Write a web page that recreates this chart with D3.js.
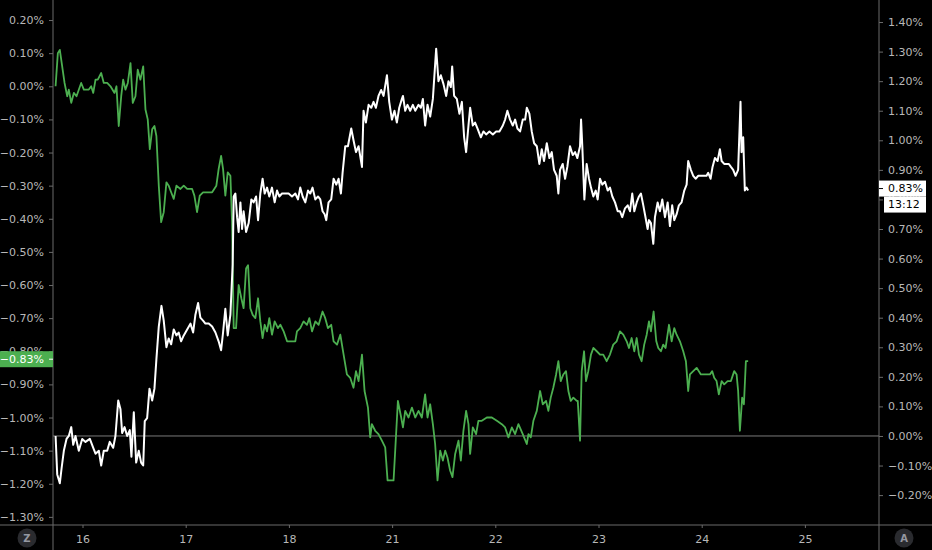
<!DOCTYPE html>
<html><head><meta charset="utf-8">
<script src="https://cdn.jsdelivr.net/npm/d3@7"></script>
<style>html,body{margin:0;padding:0;background:#000;}svg{display:block;}</style>
</head><body>
<svg id="chart" width="932" height="550"></svg>
<script>
// ---- data ----
// x positions in trading days (0 = "16"), values in percent
const dayLabels = ["16","17","18","21","22","23","24","25"];
const leftTicks = [0.2,0.1,0,-0.1,-0.2,-0.3,-0.4,-0.5,-0.6,-0.7,-0.8,-0.9,-1.0,-1.1,-1.2,-1.3];
const rightTicks = [1.4,1.3,1.2,1.1,1.0,0.9,0.8,0.7,0.6,0.5,0.4,0.3,0.2,0.1,0,-0.1,-0.2];
const greenSeries = [[-0.261,0.00],[-0.239,0.10],[-0.220,0.11],[-0.197,0.06],[-0.174,0.01],[-0.148,-0.03],[-0.133,-0.01],[-0.109,-0.05],[-0.084,-0.02],[-0.058,-0.03],[-0.013,0.01],[0.013,-0.01],[0.061,-0.01],[0.084,0.00],[0.104,-0.02],[0.126,0.02],[0.148,0.02],[0.181,0.04],[0.206,0.01],[0.239,0.01],[0.271,0.00],[0.310,-0.02],[0.329,0.00],[0.351,-0.12],[0.375,-0.03],[0.394,0.02],[0.416,-0.01],[0.439,0.01],[0.465,0.07],[0.487,-0.05],[0.513,-0.03],[0.535,0.05],[0.561,0.02],[0.588,0.06],[0.610,-0.07],[0.632,-0.10],[0.652,-0.19],[0.675,-0.13],[0.697,-0.12],[0.716,-0.15],[0.739,-0.30],[0.762,-0.41],[0.787,-0.38],[0.813,-0.29],[0.835,-0.30],[0.859,-0.32],[0.884,-0.34],[0.910,-0.30],[0.949,-0.31],[0.981,-0.30],[1.014,-0.31],[1.062,-0.31],[1.084,-0.33],[1.110,-0.38],[1.136,-0.33],[1.168,-0.32],[1.207,-0.32],[1.256,-0.32],[1.297,-0.30],[1.319,-0.25],[1.343,-0.21],[1.362,-0.25],[1.384,-0.33],[1.407,-0.26],[1.433,-0.27],[1.449,-0.41],[1.465,-0.73],[1.488,-0.73],[1.513,-0.60],[1.539,-0.64],[1.561,-0.67],[1.585,-0.55],[1.604,-0.54],[1.626,-0.67],[1.649,-0.69],[1.675,-0.70],[1.701,-0.64],[1.723,-0.71],[1.745,-0.76],[1.765,-0.72],[1.788,-0.74],[1.810,-0.70],[1.836,-0.75],[1.862,-0.71],[1.894,-0.73],[1.917,-0.72],[1.949,-0.74],[1.982,-0.77],[2.030,-0.77],[2.062,-0.77],[2.078,-0.74],[2.110,-0.73],[2.142,-0.71],[2.175,-0.72],[2.198,-0.70],[2.224,-0.74],[2.256,-0.71],[2.288,-0.72],[2.326,-0.68],[2.352,-0.70],[2.378,-0.73],[2.410,-0.72],[2.433,-0.77],[2.466,-0.78],[2.498,-0.75],[2.530,-0.81],[2.562,-0.87],[2.594,-0.88],[2.626,-0.91],[2.650,-0.86],[2.675,-0.89],[2.708,-0.81],[2.733,-0.92],[2.766,-0.97],[2.788,-1.06],[2.804,-1.02],[2.836,-1.04],[2.868,-1.05],[2.901,-1.07],[2.933,-1.09],[2.956,-1.19],[3.014,-1.19],[3.030,-1.10],[3.056,-0.95],[3.088,-1.00],[3.105,-1.03],[3.127,-0.98],[3.159,-1.00],[3.192,-0.97],[3.224,-1.00],[3.256,-0.98],[3.288,-1.00],[3.320,-0.93],[3.343,-1.00],[3.369,-0.96],[3.395,-1.02],[3.417,-1.08],[3.440,-1.19],[3.466,-1.10],[3.492,-1.13],[3.514,-1.10],[3.536,-1.12],[3.562,-1.16],[3.585,-1.18],[3.611,-1.11],[3.643,-1.07],[3.666,-1.13],[3.691,-1.04],[3.717,-0.98],[3.740,-1.02],[3.756,-1.11],[3.782,-1.03],[3.814,-1.05],[3.836,-1.01],[3.869,-1.01],[3.918,-1.00],[3.966,-1.00],[4.015,-1.01],[4.063,-1.02],[4.095,-1.03],[4.127,-1.06],[4.160,-1.03],[4.192,-1.05],[4.224,-1.02],[4.266,-1.05],[4.305,-1.08],[4.321,-1.05],[4.344,-1.06],[4.369,-1.01],[4.402,-0.98],[4.434,-0.92],[4.460,-0.96],[4.492,-0.95],[4.514,-0.98],[4.537,-0.94],[4.562,-0.91],[4.589,-0.87],[4.611,-0.83],[4.634,-0.89],[4.659,-0.87],[4.685,-0.86],[4.708,-0.92],[4.731,-0.95],[4.756,-0.94],[4.789,-0.95],[4.799,-0.95],[4.821,-1.07],[4.837,-0.86],[4.860,-0.80],[4.879,-0.89],[4.901,-0.86],[4.927,-0.81],[4.950,-0.79],[4.983,-0.80],[5.015,-0.81],[5.046,-0.81],[5.079,-0.83],[5.111,-0.81],[5.143,-0.78],[5.176,-0.77],[5.208,-0.74],[5.240,-0.75],[5.273,-0.77],[5.295,-0.79],[5.321,-0.76],[5.347,-0.80],[5.370,-0.76],[5.392,-0.81],[5.418,-0.83],[5.443,-0.78],[5.467,-0.75],[5.489,-0.71],[5.508,-0.74],[5.534,-0.68],[5.560,-0.77],[5.579,-0.79],[5.605,-0.80],[5.627,-0.78],[5.650,-0.79],[5.683,-0.72],[5.709,-0.77],[5.734,-0.73],[5.757,-0.75],[5.789,-0.77],[5.821,-0.80],[5.847,-0.83],[5.869,-0.92],[5.886,-0.87],[5.918,-0.86],[5.951,-0.85],[5.992,-0.87],[6.038,-0.87],[6.079,-0.87],[6.102,-0.86],[6.121,-0.88],[6.144,-0.89],[6.166,-0.93],[6.193,-0.89],[6.218,-0.90],[6.251,-0.89],[6.283,-0.89],[6.315,-0.86],[6.338,-0.87],[6.353,-0.92],[6.370,-1.04],[6.392,-0.94],[6.409,-0.96],[6.428,-0.83],[6.450,-0.83]];
const whiteSeries = [[-0.261,0.00],[-0.245,-0.13],[-0.220,-0.16],[-0.203,-0.11],[-0.181,-0.05],[-0.155,-0.01],[-0.133,0.00],[-0.109,0.03],[-0.090,-0.03],[-0.068,0.00],[-0.036,-0.05],[-0.003,-0.01],[0.029,-0.02],[0.071,-0.01],[0.104,-0.04],[0.126,-0.06],[0.158,-0.05],[0.181,-0.10],[0.206,-0.05],[0.239,-0.05],[0.264,-0.02],[0.297,-0.04],[0.319,0.00],[0.346,0.12],[0.368,0.09],[0.384,0.01],[0.407,0.03],[0.433,0.00],[0.458,0.02],[0.474,-0.07],[0.497,0.08],[0.520,-0.09],[0.545,-0.05],[0.568,-0.09],[0.588,-0.10],[0.603,0.05],[0.626,0.06],[0.649,0.16],[0.675,0.12],[0.697,0.16],[0.716,0.26],[0.739,0.37],[0.765,0.44],[0.787,0.39],[0.813,0.30],[0.835,0.33],[0.859,0.31],[0.884,0.36],[0.910,0.34],[0.932,0.35],[0.955,0.32],[0.981,0.34],[1.014,0.36],[1.046,0.38],[1.072,0.35],[1.094,0.41],[1.120,0.45],[1.142,0.40],[1.168,0.39],[1.191,0.38],[1.223,0.38],[1.256,0.37],[1.288,0.35],[1.319,0.32],[1.343,0.29],[1.362,0.35],[1.384,0.43],[1.407,0.34],[1.433,0.41],[1.455,0.58],[1.465,0.81],[1.481,0.82],[1.498,0.74],[1.513,0.69],[1.530,0.79],[1.546,0.70],[1.561,0.76],[1.585,0.69],[1.610,0.72],[1.636,0.80],[1.658,0.79],[1.682,0.81],[1.701,0.73],[1.723,0.82],[1.745,0.87],[1.765,0.82],[1.788,0.84],[1.810,0.81],[1.836,0.84],[1.862,0.79],[1.885,0.83],[1.907,0.81],[1.933,0.82],[1.965,0.82],[1.997,0.82],[2.030,0.81],[2.062,0.82],[2.088,0.80],[2.110,0.84],[2.133,0.81],[2.159,0.79],[2.185,0.83],[2.207,0.82],[2.229,0.84],[2.256,0.80],[2.282,0.81],[2.304,0.80],[2.326,0.76],[2.346,0.75],[2.362,0.73],[2.384,0.79],[2.410,0.80],[2.433,0.87],[2.459,0.85],[2.481,0.87],[2.504,0.82],[2.520,0.89],[2.546,0.98],[2.572,0.98],[2.604,1.04],[2.626,1.00],[2.650,0.96],[2.675,0.98],[2.708,0.91],[2.723,1.10],[2.746,1.06],[2.772,1.12],[2.798,1.11],[2.820,1.13],[2.843,1.11],[2.868,1.15],[2.894,1.17],[2.917,1.15],[2.950,1.22],[2.972,1.13],[2.998,1.07],[3.023,1.10],[3.046,1.06],[3.069,1.11],[3.095,1.14],[3.105,1.15],[3.127,1.10],[3.149,1.12],[3.175,1.10],[3.201,1.12],[3.224,1.10],[3.256,1.12],[3.279,1.11],[3.298,1.14],[3.320,1.05],[3.343,1.12],[3.369,1.08],[3.395,1.14],[3.427,1.31],[3.449,1.20],[3.472,1.22],[3.498,1.19],[3.524,1.15],[3.546,1.20],[3.569,1.18],[3.582,1.25],[3.601,1.15],[3.627,1.14],[3.652,1.09],[3.676,1.13],[3.698,1.01],[3.717,0.96],[3.740,1.05],[3.756,1.11],[3.782,1.05],[3.804,1.06],[3.827,1.04],[3.860,1.01],[3.885,1.03],[3.911,1.02],[3.943,1.03],[3.976,1.02],[4.008,1.03],[4.040,1.03],[4.073,1.05],[4.095,1.07],[4.117,1.10],[4.143,1.07],[4.169,1.05],[4.192,1.07],[4.214,1.04],[4.240,1.03],[4.266,1.07],[4.289,1.07],[4.305,1.11],[4.330,1.09],[4.353,1.03],[4.376,0.99],[4.402,0.98],[4.427,0.92],[4.450,0.97],[4.472,0.93],[4.499,0.99],[4.524,0.94],[4.547,0.96],[4.569,0.90],[4.595,0.88],[4.611,0.82],[4.627,0.90],[4.653,0.92],[4.676,0.87],[4.698,0.91],[4.724,0.98],[4.750,0.95],[4.773,0.96],[4.795,0.94],[4.821,0.98],[4.831,1.07],[4.843,0.98],[4.863,0.80],[4.885,0.92],[4.908,0.87],[4.927,0.84],[4.950,0.81],[4.973,0.83],[4.992,0.80],[5.015,0.87],[5.037,0.85],[5.063,0.86],[5.089,0.83],[5.111,0.84],[5.134,0.81],[5.160,0.79],[5.186,0.76],[5.208,0.76],[5.230,0.74],[5.257,0.77],[5.283,0.78],[5.305,0.76],[5.327,0.82],[5.347,0.76],[5.370,0.79],[5.392,0.81],[5.411,0.82],[5.434,0.78],[5.450,0.75],[5.476,0.70],[5.489,0.73],[5.508,0.72],[5.531,0.65],[5.547,0.74],[5.573,0.79],[5.595,0.76],[5.618,0.80],[5.644,0.74],[5.670,0.79],[5.692,0.71],[5.714,0.78],[5.734,0.73],[5.757,0.75],[5.779,0.78],[5.805,0.79],[5.831,0.83],[5.854,0.85],[5.869,0.93],[5.895,0.90],[5.918,0.88],[5.941,0.87],[5.967,0.88],[5.992,0.88],[6.024,0.88],[6.047,0.88],[6.063,0.89],[6.086,0.87],[6.105,0.91],[6.128,0.94],[6.154,0.93],[6.176,0.97],[6.193,0.93],[6.218,0.92],[6.241,0.92],[6.263,0.92],[6.283,0.91],[6.305,0.90],[6.328,0.88],[6.353,0.90],[6.376,1.13],[6.386,0.96],[6.402,1.01],[6.418,0.83],[6.435,0.84],[6.450,0.83]];
const greenLast = -0.83;
const whiteLast = 0.83;
const countdown = "13:12";

// ---- layout ----
const W = 932, H = 550;
const left = 53, right = 879, bottom = 525;
const svg = d3.select("#chart");
svg.append("rect").attr("width", W).attr("height", H).attr("fill", "#000");

const x = d3.scaleLinear().domain([-0.286, 7.718]).range([left, right]);
const yL = d3.scaleLinear().domain([-1.3245, 0.2605]).range([bottom, 0]);
const yR = d3.scaleLinear().domain([-0.3011, 1.4745]).range([bottom, 0]);
const fmt = v => d3.format(".2f")(v) + "%";

const axisColor = "#6a6a6a";
const textColor = "#b8b8b8";
const font = "'DejaVu Sans', sans-serif";

// zero line (right axis)
svg.append("line").attr("x1", left).attr("x2", right)
  .attr("y1", yR(0)).attr("y2", yR(0)).attr("stroke", "#7a7a7a").attr("stroke-width", 1);

// left axis
const gL = svg.append("g").attr("transform", `translate(${left},0)`)
  .call(d3.axisLeft(yL).tickValues(leftTicks).tickFormat(fmt).tickSizeInner(4).tickSizeOuter(0).tickPadding(5));
// right axis
const gR = svg.append("g").attr("transform", `translate(${right},0)`)
  .call(d3.axisRight(yR).tickValues(rightTicks).tickFormat(fmt).tickSizeInner(4).tickSizeOuter(0).tickPadding(5));
// bottom axis
const gB = svg.append("g").attr("transform", `translate(0,${bottom})`)
  .call(d3.axisBottom(x).tickValues(d3.range(dayLabels.length)).tickFormat(i => dayLabels[i]).tickSizeInner(3).tickSizeOuter(0).tickPadding(5));

[gL, gR, gB].forEach(g => {
  g.select(".domain").remove();
  g.selectAll(".tick line").attr("stroke", axisColor);
  g.selectAll(".tick text").attr("fill", textColor).attr("font-size", 11).attr("font-family", font);
});
gB.selectAll(".tick text").attr("dy", "0.95em");

// frame lines
svg.append("line").attr("x1", left).attr("x2", left).attr("y1", 0).attr("y2", H).attr("stroke", axisColor);
svg.append("line").attr("x1", right).attr("x2", right).attr("y1", 0).attr("y2", H).attr("stroke", axisColor);
svg.append("line").attr("x1", 0).attr("x2", W).attr("y1", bottom).attr("y2", bottom).attr("stroke", axisColor);

// series
const clip = svg.append("clipPath").attr("id", "plot").append("rect")
  .attr("x", left).attr("y", 0).attr("width", right - left).attr("height", bottom);
const lineG = d3.line().x(d => x(d[0])).y(d => yL(d[1]));
const lineW = d3.line().x(d => x(d[0])).y(d => yR(d[1]));
svg.append("path").datum(greenSeries).attr("d", lineG).attr("fill", "none")
  .attr("stroke", "#4caf50").attr("stroke-width", 1.8).attr("stroke-linejoin", "round").attr("clip-path", "url(#plot)");
svg.append("path").datum(whiteSeries).attr("d", lineW).attr("fill", "none")
  .attr("stroke", "#ffffff").attr("stroke-width", 2).attr("stroke-linejoin", "round").attr("clip-path", "url(#plot)");

// last value labels
const gy = yL(greenLast) - 2;
svg.append("rect").attr("x", 0).attr("y", gy - 8).attr("width", left).attr("height", 16).attr("fill", "#4caf50");
svg.append("text").attr("x", left - 9).attr("y", gy).attr("dy", "0.35em").attr("text-anchor", "end")
  .attr("fill", "#ffffff").attr("font-size", 11).attr("font-family", font).text(fmt(greenLast));
svg.append("line").attr("x1", left - 4).attr("x2", left).attr("y1", gy).attr("y2", gy).attr("stroke", "#fff");

const wy = yR(whiteLast) - 2;
svg.append("rect").attr("x", right).attr("y", wy - 8).attr("width", 47).attr("height", 16).attr("fill", "#ffffff");
svg.append("text").attr("x", right + 9).attr("y", wy).attr("dy", "0.35em")
  .attr("fill", "#000").attr("font-size", 11).attr("font-family", font).text(fmt(whiteLast));
svg.append("line").attr("x1", right).attr("x2", right + 4).attr("y1", wy).attr("y2", wy).attr("stroke", "#000");
svg.append("rect").attr("x", right + 5).attr("y", wy + 8).attr("width", 42).attr("height", 16).attr("fill", "#ffffff");
svg.append("text").attr("x", right + 9).attr("y", wy + 16).attr("dy", "0.35em")
  .attr("fill", "#000").attr("font-size", 11).attr("font-family", font).text(countdown);

// corner buttons
[[27, 538, "Z"], [904, 538, "A"]].forEach(([cx, cy, t]) => {
  svg.append("circle").attr("cx", cx).attr("cy", cy).attr("r", 9.5).attr("fill", "#2a2b2f");
  svg.append("text").attr("x", cx).attr("y", cy).attr("dy", "0.35em").attr("text-anchor", "middle")
    .attr("fill", "#9598a1").attr("font-size", 10).attr("font-weight", "bold").attr("font-family", font).text(t);
});
</script>
</body></html>
